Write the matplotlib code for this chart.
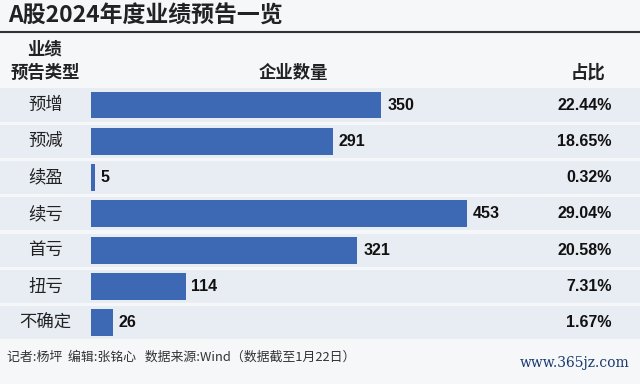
import matplotlib
matplotlib.use("Agg")
import matplotlib.pyplot as plt

plt.rcParams['font.family'] = ['Noto Sans CJK SC', 'DejaVu Sans']

categories = ["预增", "预减", "续盈", "续亏", "首亏", "扭亏", "不确定"]
counts = [350, 291, 5, 453, 321, 114, 26]
shares = ["22.44%", "18.65%", "0.32%", "29.04%", "20.58%", "7.31%", "1.67%"]

title = "A股2024年度业绩预告一览"
footer = "记者:杨坪  编辑:张铭心   数据来源:Wind（数据截至1月22日）"
watermark = "www.365jz.com"

W, H = 640, 384
BG = "#f6f7f9"
BAND = "#e8ecf3"
BAR = "#3d69b4"

fig = plt.figure(figsize=(W / 100, H / 100), dpi=100, facecolor=BG)
ax = fig.add_axes([0, 0, 1, 1])
ax.set_facecolor(BG)

x0_px = 91
px_per_unit = 0.83
row0_px = 105
row_step = 36.3
ax.set_xlim(-x0_px / px_per_unit, (W - x0_px) / px_per_unit)
ax.set_ylim((H - row0_px) / row_step, -row0_px / row_step)
ax.axis("off")

num_font = ['Liberation Sans Narrow', 'Liberation Sans', 'DejaVu Sans']

for i, (c, v, s) in enumerate(zip(categories, counts, shares)):
    ax.axhspan(i - 0.455, i + 0.455, color=BAND, zorder=0, lw=0)
    ax.barh(i, v, height=0.74, color=BAR, zorder=2, left=0)
    ax.text(-55, i, c, ha="center", va="center", fontsize=12.5, color="#222222", zorder=3)
    ax.text(v + 7, i, str(v), ha="left", va="center", fontsize=11.5, fontweight="bold",
            family=num_font, color="#111111", zorder=3)
    ax.text((612 - x0_px) / px_per_unit, i, s, ha="right", va="center", fontsize=11.5,
            fontweight="bold", family=num_font, color="#111111", zorder=3)

# title and rule
fig.text(8 / W, 1 - 16 / H, title, ha="left", va="center", fontsize=16.5, fontweight="bold", color="#222222")
ax.plot([0, 1], [1 - 32 / H, 1 - 32 / H], transform=fig.transFigure, color="#333333", lw=1.5, zorder=4)

# headers
hdr = dict(ha="center", va="center", fontsize=12.5, fontweight="bold", color="#222222")
fig.text(45 / W, 1 - 50 / H, "业绩", **hdr)
fig.text(45 / W, 1 - 73 / H, "预告类型", **hdr)
fig.text(293 / W, 1 - 73 / H, "企业数量", **hdr)
fig.text(588 / W, 1 - 73 / H, "占比", **hdr)

# footer
fig.text(7 / W, 1 - 357 / H, footer, ha="left", va="center", fontsize=9.3, color="#333333")
fig.text(630 / W, 1 - 363 / H, watermark, ha="right", va="center", fontsize=10,
         family=['DejaVu Serif'], color="#1a3a6e")

fig.savefig("out.png", dpi=100, facecolor=BG)
